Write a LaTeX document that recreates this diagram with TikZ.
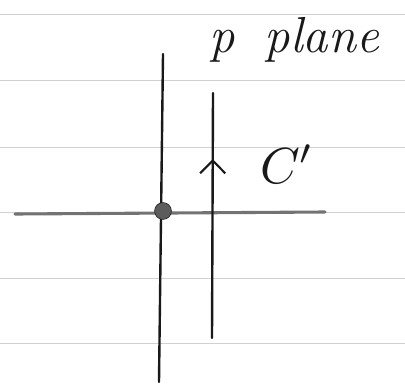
\documentclass[tikz,border=0pt]{standalone}
\usepackage{xcolor}
\usepackage{graphicx}
\definecolor{ruleline}{gray}{0.82}
\definecolor{axisgray}{gray}{0.45}
\definecolor{ink}{gray}{0.1}
\usetikzlibrary{arrows.meta,decorations.markings}

\begin{document}
\begin{tikzpicture}[
  x=0.025cm, y=-0.025cm,
  rule/.style={draw=ruleline, line width=0.5pt},
  axis/.style={draw=axisgray, line width=2.2pt, line cap=round},
  inkline/.style={draw=ink, line width=1.7pt, line cap=round},
  contour/.style={
    inkline,
    postaction={decorate},
    decoration={markings,
      mark=at position 0.73 with {\arrow[ink, line width=1.5pt]{Straight Barb[length=9pt, width=18pt]}}}
  },
  hand/.style={text=ink, font=\fontsize{36}{40}\selectfont\itshape}
]
\useasboundingbox (0,0) rectangle (405,388);
% notebook rules
\foreach \ry in {14,80,147,212,278,343}
  \draw[rule] (0,\ry) -- (405,\ry);

\coordinate (origin) at (163,211);
\coordinate (realLeft) at (15,214);
\coordinate (realRight) at (325,212);
\coordinate (imagTop) at (163,54);
\coordinate (imagBot) at (159,382);
\coordinate (contourBot) at (212,338);
\coordinate (contourTop) at (213,93);

\draw[axis] (realLeft) -- (realRight);
\draw[inkline] (imagTop) -- (imagBot);
\draw[contour] (contourBot) -- (contourTop);
\node[circle, fill=axisgray!80!black, draw=ink, line width=0.4pt, inner sep=0pt, minimum size=12pt] (pole) at (origin) {};

\node[hand] (title) at (294,40) {p\hspace{0.6em}plane};
\node[text=ink] (contourLabel) at (287,164) {\scalebox{3.6}{$C'$}};
\end{tikzpicture}
\end{document}
